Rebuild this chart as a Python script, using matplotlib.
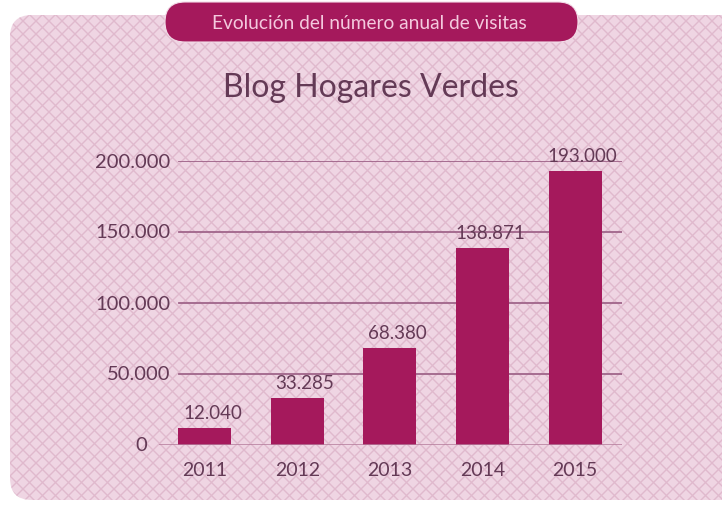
import matplotlib
matplotlib.use("Agg")
import matplotlib.pyplot as plt
import matplotlib.transforms as mtransforms
from matplotlib.patches import FancyBboxPatch
import numpy as np

years = ["2011", "2012", "2013", "2014", "2015"]
visits = [12040, 33285, 68380, 138871, 193000]
visit_labels = ["12.040", "33.285", "68.380", "138.871", "193.000"]
yticks = [0, 50000, 100000, 150000, 200000]
ytick_labels = ["0", "50.000", "100.000", "150.000", "200.000"]

W, H = 722, 506
bar_color = "#A5195C"
text_color = "#643A56"
grid_color = "#A0658A"
bg_color = "#EFD5E3"
lattice_color = "#E0B9CD"
font = "Lato"

fig = plt.figure(figsize=(W / 100, H / 100), dpi=100)
fig.patch.set_facecolor("white")

# background: rounded panel with diamond lattice
bg = fig.add_axes([0, 0, 1, 1])
bg.set_xlim(0, W)
bg.set_ylim(H, 0)
bg.axis("off")
panel = FancyBboxPatch((10, 16), 740, 485, boxstyle="round,pad=0,rounding_size=22",
                       facecolor=bg_color, edgecolor="none", zorder=0)
bg.add_patch(panel)
step = 13
xs = np.array([0, W])
for c in np.arange(-W, W + H, step):
    l1, = bg.plot(xs, xs + c - W, color=lattice_color, lw=1.0, zorder=1)
    l2, = bg.plot(xs, -xs + c, color=lattice_color, lw=1.0, zorder=1)
    l1.set_clip_path(panel)
    l2.set_clip_path(panel)

# banner
banner = FancyBboxPatch((165, 3), 413, 40, boxstyle="round,pad=0,rounding_size=20",
                        facecolor=bar_color, edgecolor="#F3DCE8", lw=0.8, zorder=2)
bg.add_patch(banner)
bg.text(369, 23, "Evolución del número anual de visitas", ha="center", va="center",
        fontsize=13.8, color="#F4C9DE", family=font, zorder=3)

# title
bg.text(371, 88, "Blog Hogares Verdes", ha="center", va="center",
        fontsize=23, color=text_color, family=font, zorder=3)

# main chart
left_px, right_px = 159, 622
top_px, bottom_px = 162, 446
ax = fig.add_axes([left_px / W, (H - bottom_px) / H,
                   (right_px - left_px) / W, (bottom_px - top_px) / H])
ax.patch.set_alpha(0)
x = np.arange(len(years))
ax.set_xlim(-0.497, 4.508)
ax.set_ylim(0, 200000)
for s in ax.spines.values():
    s.set_visible(False)
ax.set_xticks([])
ax.set_yticks([])

grid_start = (179 - left_px) / (right_px - left_px)
for v in yticks[1:]:
    ax.axhline(v, xmin=grid_start, xmax=1, color=grid_color, lw=1.3, zorder=1)
ax.axhline(0, xmin=0, xmax=1, color="#B57D9C", lw=1.8, zorder=3)

ax.bar(x, visits, width=0.573, color=bar_color, zorder=2)

trans = mtransforms.blended_transform_factory(ax.transAxes, ax.transData)
for v, lab in zip(yticks, ytick_labels):
    xpos = (170 - left_px) / (right_px - left_px) if v else (147 - left_px) / (right_px - left_px)
    ax.text(xpos, v, lab, transform=trans, ha="right", va="center",
            fontsize=14.5, color=text_color, family=font, clip_on=False)

for xi, v, lab in zip(x, visits, visit_labels):
    ax.annotate(lab, (xi, v), xytext=(5.5, 5), textcoords="offset points",
                ha="center", va="bottom", fontsize=13.5, color=text_color,
                family=font, annotation_clip=False)

for xi, yr in zip(x, years):
    ax.annotate(yr, (xi, 0), xytext=(0, -18), textcoords="offset points",
                ha="center", va="center", fontsize=14, color=text_color,
                family=font, annotation_clip=False)

fig.savefig("out.png", dpi=100, facecolor=fig.get_facecolor())
